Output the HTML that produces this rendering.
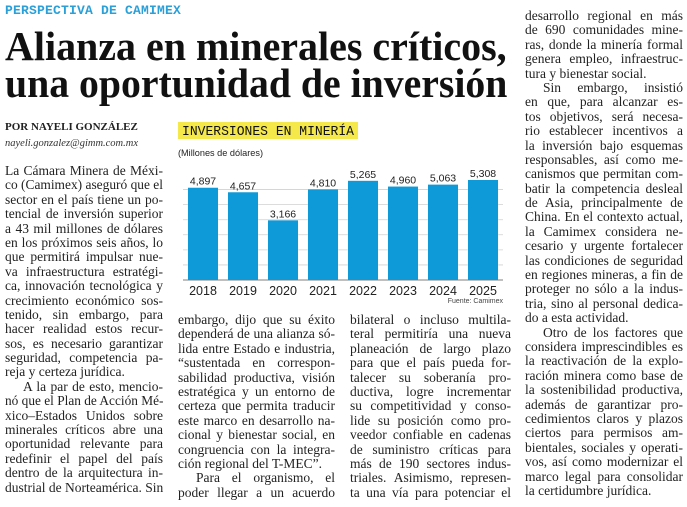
<!DOCTYPE html>
<html><head><meta charset="utf-8">
<style>
html,body{margin:0;padding:0;background:#fff;}
body{width:687px;height:507px;position:relative;overflow:hidden;font-family:"Liberation Serif",serif;color:#222;}
.abs{position:absolute;}
.col{position:absolute;font-size:13.5px;line-height:14.4px;}
.ln{box-sizing:border-box;white-space:nowrap;text-align:justify;text-align-last:justify;transform-origin:0 0;height:14.4px;}
.ln.e{text-align-last:left;}
.ln.i{padding-left:18px;}
#kicker{left:5px;top:3px;font-family:"Liberation Mono",monospace;font-weight:bold;font-size:13px;color:#2a9fd8;letter-spacing:0.2px;}
.hl{left:5px;font-weight:bold;font-size:41px;line-height:40px;color:#111;white-space:nowrap;transform-origin:0 0;}
</style></head><body>
<div id="kicker" class="abs">PERSPECTIVA DE CAMIMEX</div>
<div class="abs hl fitw" data-w="502" style="top:26px">Alianza en minerales críticos,</div>
<div class="abs hl fitw" data-w="502" style="top:63px">una oportunidad de inversión</div>
<div class="abs" style="left:5px;top:121px;font-size:11px;font-weight:bold;color:#222;">POR NAYELI GONZÁLEZ</div>
<div class="abs" style="left:5px;top:138px;font-size:10.5px;font-style:italic;color:#333;">nayeli.gonzalez@gimm.com.mx</div>

<svg class="abs" style="left:0;top:0" width="687" height="507">
<g id="chart"></g>
</svg>

<div class="col" style="left:5px;top:164px;width:158px">
<div class="ln">La Cámara Minera de Méxi-</div>
<div class="ln">co (Camimex) aseguró que el</div>
<div class="ln">sector en el país tiene un po-</div>
<div class="ln">tencial de inversión superior</div>
<div class="ln">a 43 mil millones de dólares</div>
<div class="ln">en los próximos seis años, lo</div>
<div class="ln">que permitirá impulsar nue-</div>
<div class="ln">va infraestructura estratégi-</div>
<div class="ln">ca, innovación tecnológica y</div>
<div class="ln">crecimiento económico sos-</div>
<div class="ln">tenido, sin embargo, para</div>
<div class="ln">hacer realidad estos recur-</div>
<div class="ln">sos, es necesario garantizar</div>
<div class="ln">seguridad, competencia pa-</div>
<div class="ln e">reja y certeza jurídica.</div>
<div class="ln i">A la par de esto, mencio-</div>
<div class="ln">nó que el Plan de Acción Mé-</div>
<div class="ln">xico–Estados Unidos sobre</div>
<div class="ln">minerales críticos abre una</div>
<div class="ln">oportunidad relevante para</div>
<div class="ln">redefinir el papel del país</div>
<div class="ln">dentro de la arquitectura in-</div>
<div class="ln">dustrial de Norteamérica. Sin</div>
</div>

<div class="col" style="left:178px;top:313px;width:157px">
<div class="ln">embargo, dijo que su éxito</div>
<div class="ln">dependerá de una alianza só-</div>
<div class="ln">lida entre Estado e industria,</div>
<div class="ln">“sustentada en correspon-</div>
<div class="ln">sabilidad productiva, visión</div>
<div class="ln">estratégica y un entorno de</div>
<div class="ln">certeza que permita traducir</div>
<div class="ln">este marco en desarrollo na-</div>
<div class="ln">cional y bienestar social, en</div>
<div class="ln">congruencia con la integra-</div>
<div class="ln e">ción regional del T-MEC”.</div>
<div class="ln i">Para el organismo, el</div>
<div class="ln">poder llegar a un acuerdo</div>
</div>

<div class="col" style="left:350px;top:313px;width:161px">
<div class="ln">bilateral o incluso multila-</div>
<div class="ln">teral permitiría una nueva</div>
<div class="ln">planeación de largo plazo</div>
<div class="ln">para que el país pueda for-</div>
<div class="ln">talecer su soberanía pro-</div>
<div class="ln">ductiva, logre incrementar</div>
<div class="ln">su competitividad y conso-</div>
<div class="ln">lide su posición como pro-</div>
<div class="ln">veedor confiable en cadenas</div>
<div class="ln">de suministro críticas para</div>
<div class="ln">más de 190 sectores indus-</div>
<div class="ln">triales. Asimismo, represen-</div>
<div class="ln">ta una vía para potenciar el</div>
</div>

<div class="col" style="left:525px;top:9px;width:158px">
<div class="ln">desarrollo regional en más</div>
<div class="ln">de 690 comunidades mine-</div>
<div class="ln">ras, donde la minería formal</div>
<div class="ln">genera empleo, infraestruc-</div>
<div class="ln e">tura y bienestar social.</div>
<div class="ln i">Sin embargo, insistió</div>
<div class="ln">en que, para alcanzar es-</div>
<div class="ln">tos objetivos, será necesa-</div>
<div class="ln">rio establecer incentivos a</div>
<div class="ln">la inversión bajo esquemas</div>
<div class="ln">responsables, así como me-</div>
<div class="ln">canismos que permitan com-</div>
<div class="ln">batir la competencia desleal</div>
<div class="ln">de Asia, principalmente de</div>
<div class="ln">China. En el contexto actual,</div>
<div class="ln">la Camimex considera ne-</div>
<div class="ln">cesario y urgente fortalecer</div>
<div class="ln">las condiciones de seguridad</div>
<div class="ln">en regiones mineras, a fin de</div>
<div class="ln">proteger no sólo a la indus-</div>
<div class="ln">tria, sino al personal dedica-</div>
<div class="ln e">do a esta actividad.</div>
<div class="ln i">Otro de los factores que</div>
<div class="ln">considera imprescindibles es</div>
<div class="ln">la reactivación de la explo-</div>
<div class="ln">ración minera como base de</div>
<div class="ln">la sostenibilidad productiva,</div>
<div class="ln">además de garantizar pro-</div>
<div class="ln">cedimientos claros y plazos</div>
<div class="ln">ciertos para permisos am-</div>
<div class="ln">bientales, sociales y operati-</div>
<div class="ln">vos, así como modernizar el</div>
<div class="ln">marco legal para consolidar</div>
<div class="ln e">la certidumbre jurídica.</div>
</div>

<script>
const categories = ["2018","2019","2020","2021","2022","2023","2024","2025"];
const values = [4897,4657,3166,4810,5265,4960,5063,5308];
const valueLabels = ["4,897","4,657","3,166","4,810","5,265","4,960","5,063","5,308"];
const gridTicks = [0,800,1600,2400,3200,4000,4800];

const NS = "http://www.w3.org/2000/svg";
const g = document.getElementById('chart');
const plotL = 183, plotR = 503, baseY = 280, maxV = 5308, maxH = 100;
const yScale = v => baseY - v / maxV * maxH;
const step = (plotR - plotL) / categories.length;
const xScale = i => plotL + i * step;
const barW = 30;
function mk(tag, attrs){const e=document.createElementNS(NS,tag);for(const k in attrs)e.setAttribute(k,attrs[k]);g.appendChild(e);return e;}

let r = mk('rect',{x:178,y:122,width:180,height:17,fill:'#f5e84a'});


let t = mk('text',{x:182,y:135,'font-family':'Liberation Mono, monospace','font-size':'13.5',fill:'#111',textLength:172,lengthAdjust:'spacingAndGlyphs'});
t.textContent='INVERSIONES EN MINERÍA';


t = mk('text',{x:178,y:156,'font-family':'Liberation Sans, sans-serif','font-size':'9.5',fill:'#222',textLength:85,lengthAdjust:'spacingAndGlyphs'});
t.textContent='(Millones de dólares)';



gridTicks.forEach(v=>{
  const y=yScale(v);
  const l=mk('line',{x1:plotL,x2:plotR,y1:y,y2:y,stroke:v===0?'#999':'#d0d0d0','stroke-width':v===0?1.2:0.8});
  
  
});

categories.forEach((c,i)=>{
  const x=xScale(i)+(step-barW)/2;
  const y=yScale(values[i]);
  const b=mk('rect',{x:x,y:y,width:barW,height:baseY-y,fill:'#0e9ad8'});
  
  
  const vl=mk('text',{x:x+barW/2,y:y-3,'text-anchor':'middle','font-family':'Liberation Sans Narrow, Liberation Sans, sans-serif','font-size':'10.5',fill:'#222'});
  vl.textContent=valueLabels[i];
  
  
  const xl=mk('text',{x:x+barW/2,y:295,'text-anchor':'middle','font-family':'Liberation Sans Narrow, Liberation Sans, sans-serif','font-size':'12.5',fill:'#222'});
  xl.textContent=c;
  
  
});
t = mk('text',{x:503,y:303,'text-anchor':'end','font-family':'Liberation Sans, sans-serif','font-size':'7',fill:'#444'});
t.textContent='Fuente: Camimex';



document.querySelectorAll('.col').forEach(col=>{
  const w=col.clientWidth;
  col.querySelectorAll('.ln').forEach(ln=>{
    ln.style.display='inline-block';ln.style.width='auto';
    const nat=ln.scrollWidth;
    ln.style.display='block';
    if(nat>w){ln.style.width=nat+'px';ln.style.transform='scaleX('+(w/nat)+')';}
    else{ln.style.width=w+'px';}
  });
});
document.querySelectorAll('.fitw').forEach(el=>{
  const w=+el.dataset.w;const nat=el.scrollWidth;
  el.style.transform='scaleX('+(w/nat)+')';
});
</script>
</body></html>
